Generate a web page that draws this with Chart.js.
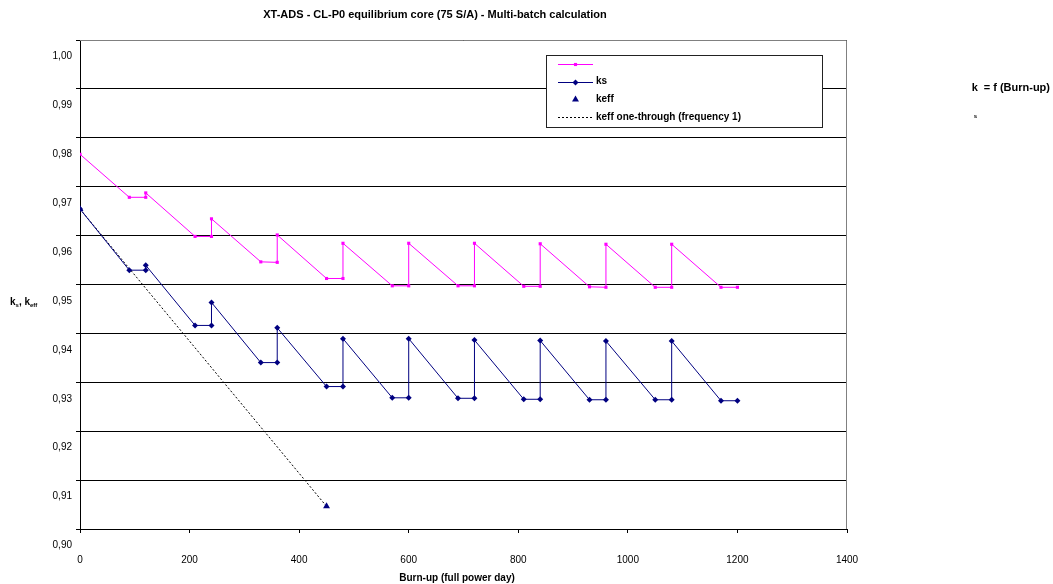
<!DOCTYPE html>
<html>
<head>
<meta charset="utf-8">
<script src="https://cdn.jsdelivr.net/npm/chart.js@4/dist/chart.umd.min.js"></script>
<style>
  html, body { margin: 0; padding: 0; background: #fff; }
</style>
</head>
<body>
<canvas id="chart" width="1053" height="584"></canvas>
<script>
// burn-up (full power days) for the two multi-batch curves
const days = [0, 90, 120, 120, 210, 240, 240, 330, 360, 360, 450, 480, 480, 570, 600, 600,
              690, 720, 720, 810, 840, 840, 930, 960, 960, 1050, 1080, 1080, 1170, 1200];
const pinkValues = [0.9800, 0.9712, 0.9712, 0.9721, 0.9632, 0.9632, 0.9668, 0.9580, 0.9579, 0.9635,
                    0.9546, 0.9546, 0.9618, 0.9531, 0.9531, 0.9618, 0.9531, 0.9531, 0.9618, 0.9530,
                    0.9530, 0.9617, 0.9529, 0.9528, 0.9616, 0.9528, 0.9528, 0.9616, 0.9528, 0.9528];
const ksValues = [0.9688, 0.9563, 0.9563, 0.9573, 0.9450, 0.9450, 0.9497, 0.9374, 0.9374, 0.9445,
                  0.9325, 0.9325, 0.9423, 0.9302, 0.9302, 0.9423, 0.9301, 0.9301, 0.9420, 0.9299,
                  0.9299, 0.9419, 0.9298, 0.9298, 0.9418, 0.9298, 0.9298, 0.9418, 0.9296, 0.9296];
const keffDays = [0, 450];
const keffValues = [0.9688, 0.9080];
const oneThroughDays = [0, 450];
const oneThroughValues = [0.9688, 0.9080];
const yTickLabels = ['1,00', '0,99', '0,98', '0,97', '0,96', '0,95', '0,94', '0,93', '0,92', '0,91', '0,90'];

// gridlines sit a bit above their labels in the original sheet
const Y_MAX = 1.00337;
const Y_MIN = Y_MAX - 0.1;

const FONT = '"Liberation Sans", Arial, sans-serif';
Chart.defaults.font.family = FONT;
Chart.defaults.font.size = 10;
Chart.defaults.color = '#000';

const toPoints = (xs, ys) => xs.map((x, i) => ({ x: x, y: ys[i] }));

const extras = {
    id: 'extras',
    afterDraw(chart) {
        const ctx = chart.ctx;
        const a = chart.chartArea;
        ctx.save();

        // top/right frame of the plot
        ctx.strokeStyle = '#808080';
        ctx.lineWidth = 1;
        ctx.beginPath();
        ctx.moveTo(a.left, a.top + 0.5);
        ctx.lineTo(a.right - 0.5, a.top + 0.5);
        ctx.lineTo(a.right - 0.5, a.bottom);
        ctx.stroke();

        // legend box
        const lx = a.right - 301, ly = a.top + 15, lw = 276, lh = 72;
        ctx.fillStyle = '#fff';
        ctx.fillRect(lx, ly, lw, lh);
        ctx.strokeStyle = '#222';
        ctx.strokeRect(lx + 0.5, ly + 0.5, lw, lh);

        chart.data.datasets.forEach((ds, i) => {
            const y = ly + 9 + i * 17.7;
            const x0 = lx + 12, x1 = lx + 47;
            if (ds.showLine !== false) {
                ctx.strokeStyle = ds.borderColor;
                ctx.lineWidth = ds.borderWidth;
                ctx.setLineDash(ds.borderDash || []);
                ctx.beginPath();
                ctx.moveTo(x0, Math.round(y) + 0.5);
                ctx.lineTo(x1, Math.round(y) + 0.5);
                ctx.stroke();
                ctx.setLineDash([]);
            }
            if (ds.pointRadius > 0) {
                ctx.fillStyle = ds.backgroundColor;
                ctx.strokeStyle = ds.borderColor;
                Chart.helpers.drawPoint(ctx, {
                    pointStyle: ds.pointStyle, radius: ds.pointRadius, rotation: 0, borderWidth: 0
                }, (x0 + x1) / 2, Math.round(y) + 0.5);
            }
            ctx.fillStyle = '#000';
            ctx.font = 'bold 10px ' + FONT;
            ctx.textBaseline = 'middle';
            ctx.textAlign = 'left';
            ctx.fillText(ds.label, x1 + 3, y);
        });

        // y axis title  k_s, k_eff
        ctx.textBaseline = 'alphabetic';
        let x = 10;
        const yb = 305;
        const part = (txt, size, dy) => {
            ctx.font = 'bold ' + size + 'px ' + FONT;
            ctx.fillText(txt, x, yb + dy);
            x += ctx.measureText(txt).width;
        };
        part('k', 10, 0);
        part('s', 6, 2);
        part(', k', 10, 0);
        part('eff', 6, 2);

        // x axis title
        ctx.font = 'bold 10px ' + FONT;
        ctx.textAlign = 'center';
        ctx.textBaseline = 'middle';
        ctx.fillText('Burn-up (full power day)', 457, 578);

        // side note  k_s = f (Burn-up)
        ctx.textAlign = 'right';
        ctx.font = 'bold 11px ' + FONT;
        ctx.fillText('= f (Burn-up)', 1050, 88);
        const w = ctx.measureText('= f (Burn-up)').width;
        ctx.textAlign = 'left';
        ctx.fillText('k', 1050 - w - 12, 88);
        ctx.font = 'bold 6px ' + FONT;
        ctx.fillText('s', 1050 - w - 10, 116);

        ctx.restore();
    }
};

new Chart(document.getElementById('chart'), {
    type: 'scatter',
    data: {
        datasets: [
            {
                label: '',
                data: toPoints(days, pinkValues),
                showLine: true,
                borderColor: '#ff00ff',
                backgroundColor: '#ff00ff',
                borderWidth: 1,
                pointStyle: 'rect',
                pointRadius: 2.2,
                pointBorderWidth: 0,
                order: 1
            },
            {
                label: 'ks',
                data: toPoints(days, ksValues),
                showLine: true,
                borderColor: '#000080',
                backgroundColor: '#000080',
                borderWidth: 1,
                pointStyle: 'rectRot',
                pointRadius: 3,
                pointBorderWidth: 0,
                order: 0
            },
            {
                label: 'keff',
                data: toPoints(keffDays, keffValues),
                showLine: false,
                borderColor: '#000080',
                backgroundColor: '#000080',
                pointStyle: 'triangle',
                pointRadius: 4,
                pointBorderWidth: 0,
                order: 2
            },
            {
                label: 'keff one-through (frequency 1)',
                data: toPoints(oneThroughDays, oneThroughValues),
                showLine: true,
                borderColor: '#000',
                backgroundColor: '#000',
                borderWidth: 1,
                borderDash: [2, 2],
                pointRadius: 0,
                order: 3
            }
        ]
    },
    options: {
        responsive: false,
        animation: false,
        layout: { padding: { left: 23, right: 206, top: 0, bottom: 0 } },
        plugins: {
            legend: { display: false },
            tooltip: { enabled: false },
            title: {
                display: true,
                text: 'XT-ADS - CL-P0 equilibrium core (75 S/A) - Multi-batch calculation',
                color: '#000',
                font: { size: 11, weight: 'bold' },
                padding: { top: 8, bottom: 18.8 }
            }
        },
        scales: {
            x: {
                type: 'linear',
                min: 0,
                max: 1400,
                afterFit: s => { s.height = 55; },
                grid: { drawOnChartArea: false, drawTicks: true, tickLength: 4, tickColor: '#000' },
                border: { color: '#000', width: 1 },
                ticks: { stepSize: 200, padding: 21, color: '#000', callback: v => String(v) }
            },
            y: {
                type: 'linear',
                min: Y_MIN,
                max: Y_MAX,
                afterFit: s => { s.width = 57; },
                afterBuildTicks: s => {
                    s.ticks = yTickLabels.map((_, i) => ({ value: Y_MAX - i * 0.01 }));
                },
                grid: { color: '#000', lineWidth: 1, drawTicks: true, tickLength: 4, tickColor: '#000' },
                border: { color: '#000', width: 1 },
                ticks: {
                    autoSkip: false,
                    padding: 4,
                    labelOffset: 16.5,
                    color: '#000',
                    callback: (v, i) => yTickLabels[i]
                }
            }
        }
    },
    plugins: [extras]
});
</script>
</body>
</html>
